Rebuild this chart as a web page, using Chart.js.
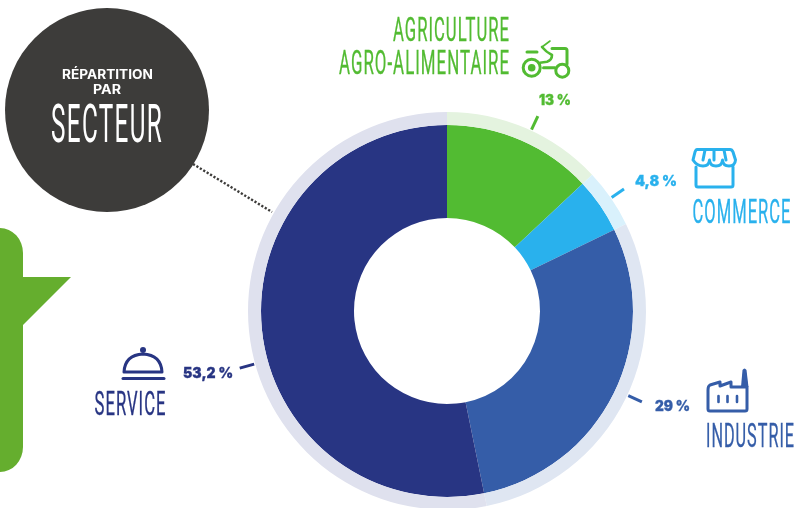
<!DOCTYPE html>
<html lang="fr">
<head>
<meta charset="utf-8">
<title>Répartition par secteur</title>
<script src="https://cdn.jsdelivr.net/npm/chart.js@4"></script>
<style>
  html, body { margin: 0; padding: 0; background: #fff; overflow: hidden; width: 795px; height: 508px; }
  #stage { position: relative; width: 795px; height: 508px; overflow: hidden; }
  canvas { position: absolute; left: 0; top: 0; }
  svg { position: absolute; left: 0; top: 0; }
  .nom { font-family: "Liberation Sans Narrow", Roboto, sans-serif; font-size: 33px; letter-spacing: 2px; stroke-width: 0.35px; }
  .pct { font-family: Inter, sans-serif; font-weight: 900; font-size: 14.5px; stroke-width: 0.3px; }
  .ico { fill: none; stroke-width: 3; stroke-linecap: round; stroke-linejoin: round; }
</style>
</head>
<body>
<div id="stage">
  <canvas id="donut" width="795" height="510"></canvas>
  <svg width="795" height="508" viewBox="0 0 795 508" xmlns="http://www.w3.org/2000/svg">
    <!-- bulle verte coupée à gauche -->
    <path d="M-30 228 H0 A23 25 0 0 1 23 253 V277 H71 L23 325 V447 A23 25 0 0 1 0 472 H-30 Z" fill="#65ae2e"/>

    <!-- pastille titre -->
    <line x1="193" y1="164" x2="272" y2="212" stroke="#3d3c3a" stroke-width="2.4" stroke-dasharray="2.2 1.8"/>
    <circle cx="107" cy="110" r="102" fill="#3d3c3a"/>
    <text x="107.5" y="79" text-anchor="middle" fill="#fff" font-family="Inter, sans-serif" font-weight="700" font-size="13" textLength="91" lengthAdjust="spacingAndGlyphs">RÉPARTITION</text>
    <text x="107" y="94" text-anchor="middle" fill="#fff" font-family="Inter, sans-serif" font-weight="700" font-size="13" textLength="28" lengthAdjust="spacingAndGlyphs">PAR</text>
    <text x="107" y="142" text-anchor="middle" fill="#fff" class="nom" style="font-size:54px;letter-spacing:3px;stroke-width:0" textLength="112" lengthAdjust="spacingAndGlyphs">SECTEUR</text>

    <!-- libellés, remplis depuis les tableaux -->
    <text id="nom-agri1" x="510" y="41" text-anchor="end" class="nom" fill="#52bb32" stroke="#52bb32" textLength="117" lengthAdjust="spacingAndGlyphs"></text>
    <text id="nom-agri2" x="510" y="74" text-anchor="end" class="nom" fill="#52bb32" stroke="#52bb32" textLength="171" lengthAdjust="spacingAndGlyphs"></text>
    <text id="nom-comm" x="692.5" y="223" class="nom" fill="#29b1ed" stroke="#29b1ed" textLength="99" lengthAdjust="spacingAndGlyphs"></text>
    <text id="nom-indu" x="706" y="447" class="nom" fill="#355da8" stroke="#355da8" textLength="89" lengthAdjust="spacingAndGlyphs"></text>
    <text id="nom-serv" x="94.5" y="415" class="nom" fill="#283583" stroke="#283583" textLength="72" lengthAdjust="spacingAndGlyphs"></text>

    <text id="pct-0" x="539" y="105" class="pct" fill="#52bb32" stroke="#52bb32" textLength="32" lengthAdjust="spacingAndGlyphs"></text>
    <text id="pct-1" x="635" y="186" class="pct" fill="#29b1ed" stroke="#29b1ed" textLength="42" lengthAdjust="spacingAndGlyphs"></text>
    <text id="pct-2" x="655" y="411" class="pct" fill="#355da8" stroke="#355da8" textLength="35" lengthAdjust="spacingAndGlyphs"></text>
    <text id="pct-3" x="183" y="378" class="pct" fill="#283583" stroke="#283583" textLength="50" lengthAdjust="spacingAndGlyphs"></text>

    <!-- tracteur -->
    <g class="ico" stroke="#52bb32">
      <circle cx="531.7" cy="67.7" r="8.5"/>
      <circle cx="562.3" cy="70.7" r="6.5"/>
      <path d="M527 52 H537"/>
      <path d="M543.5 67.7 H555"/>
      <path d="M542 47 L550 41" stroke-width="1.6"/>
      <path d="M542 47 Q546 52 552 55 Q552 60 547 61.7 L540 62.7" stroke-width="2.6"/>
      <path d="M552 48.5 H565 Q567 48.5 567 50.5 V64"/>
    </g>
    <circle cx="531.7" cy="67.7" r="3.8" fill="#52bb32"/>

    <!-- boutique -->
    <g class="ico" stroke="#29b1ed">
      <path d="M697 149.5 H730 Q732 149.5 733 152 L735.5 160 Q735 166 729 166 Q723 166 722.5 160 Q722 166 716 166 Q710 166 709.5 160 Q709 166 703 166 Q697 166 693 160 L695 152 Q696 149.5 697 149.5 Z"/>
      <path d="M705 150 L703 160 M714 150 V160 M724 150 L726 160"/>
      <path d="M696 167 V185 Q696 187 698 187 H731 Q733 187 733 185 V167"/>
    </g>

    <!-- usine -->
    <g class="ico" stroke="#355da8">
      <path d="M708 390 Q708 386 710 385 L720 382 V386 L731 382 V387 H747 V409 Q747 411 745 411 H710 Q708 411 708 409 Z"/>
      <path d="M718.5 396 V402 M727.5 396 V402 M737 396 V402" stroke-width="2.6"/>
    </g>
    <path d="M741 387 L742.5 370 Q744.5 367 746.5 370 L748.5 387 Z" fill="#355da8"/>

    <!-- cloche -->
    <g class="ico" stroke="#283583">
      <path d="M124 372 H162 Q161 355 143 354 Q125 355 124 372 Z"/>
      <path d="M123 378.5 H164"/>
    </g>
    <circle cx="143" cy="350" r="3" fill="#283583"/>
  </svg>
</div>

<script>
// Données
const secteurs = ["Agriculture agro-alimentaire", "Commerce", "Industrie", "Service"];
const parts = [13, 4.8, 29, 53.2];
const nomsAffiches = ["AGRICULTURE", "AGRO-ALIMENTAIRE", "COMMERCE", "INDUSTRIE", "SERVICE"];

// Couleurs
const couleurs = ["#52bb32", "#29b1ed", "#355da8", "#283583"];
const couleursAnneau = ["#e4f3df", "#d9f1fc", "#dfe6f2", "#dfe1ee"];

// Petits traits de repère (angle en degrés depuis le haut)
const anglesTraits = [25, 55.4, 115, 254.6];

// Remplissage des textes
["nom-agri1", "nom-agri2", "nom-comm", "nom-indu", "nom-serv"].forEach((id, i) => {
  document.getElementById(id).textContent = nomsAffiches[i];
});
parts.forEach((p, i) => {
  document.getElementById(`pct-${i}`).textContent = `${String(p).replace(".", ",")} %`;
});

const traitsPlugin = {
  id: "traits",
  afterDatasetsDraw(chart) {
    const arc = chart.getDatasetMeta(0).data[0];
    const { ctx } = chart;
    const { x, y, outerRadius } = arc.getProps(["x", "y", "outerRadius"], true);
    anglesTraits.forEach((deg, i) => {
      const a = (deg * Math.PI) / 180;
      ctx.save();
      ctx.strokeStyle = couleurs[i];
      ctx.lineWidth = 3;
      ctx.beginPath();
      ctx.moveTo(x + Math.sin(a) * (outerRadius + 1), y - Math.cos(a) * (outerRadius + 1));
      ctx.lineTo(x + Math.sin(a) * (outerRadius + 16), y - Math.cos(a) * (outerRadius + 16));
      ctx.stroke();
      ctx.restore();
    });
  },
};

new Chart(document.getElementById("donut"), {
  type: "doughnut",
  data: {
    labels: secteurs,
    datasets: [
      { data: parts, backgroundColor: couleursAnneau, borderWidth: 0, weight: 13 },
      { data: parts, backgroundColor: couleurs, borderWidth: 0, weight: 93 },
    ],
  },
  options: {
    responsive: false,
    animation: false,
    cutout: 93,
    layout: { padding: { left: 248, right: 149, top: 112, bottom: 0 } },
    plugins: { legend: { display: false }, tooltip: { enabled: false } },
  },
  plugins: [traitsPlugin],
});
</script>
</body>
</html>
